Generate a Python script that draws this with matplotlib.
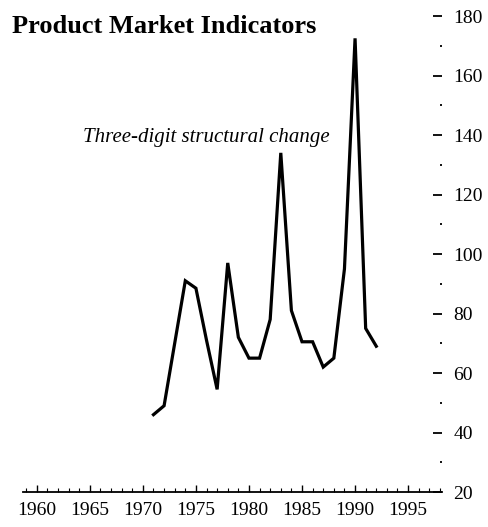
import numpy as np
import matplotlib
matplotlib.use("Agg")
import matplotlib.pyplot as plt
from matplotlib.ticker import MultipleLocator

# =========================
# 数据
# =========================

years = list(range(1971, 1993))
values = [46, 49, 70, 91, 88.5, 71, 54.5, 97, 72, 65, 65,
          78, 134, 81, 70.5, 70.5, 62, 65, 95, 172.5, 75, 69]

x_ticks = [1960, 1965, 1970, 1975, 1980, 1985, 1990, 1995]
y_ticks = [20, 40, 60, 80, 100, 120, 140, 160, 180]

title_text = "Product Market Indicators"
note_text = "Three-digit structural change"

# =========================
# 绘图
# =========================

plt.rcParams["font.family"] = ["Liberation Serif", "DejaVu Serif"]

fig = plt.figure(figsize=(4.89, 5.27), dpi=100)
ax = fig.add_axes([0.047, 0.0664, 0.857, 0.9032])

ax.plot(years, values, color="black", lw=2.3, solid_joinstyle="miter")

ax.set_xlim(1958.7, 1998.2)
ax.set_ylim(20, 180)

# 只保留底部轴线
for s in ["top", "left", "right"]:
    ax.spines[s].set_visible(False)
ax.spines["bottom"].set_linewidth(1.3)

ax.set_xticks(x_ticks)
ax.xaxis.set_minor_locator(MultipleLocator(1))
ax.tick_params(axis="x", which="major", direction="in", length=5, width=1.0,
               labelsize=14, pad=7)
ax.tick_params(axis="x", which="minor", direction="in", length=3, width=0.8)

ax.yaxis.tick_right()
ax.set_yticks(y_ticks)
ax.yaxis.set_minor_locator(MultipleLocator(10))
ax.tick_params(axis="y", which="major", direction="in", length=6.5, width=1.3,
               labelsize=14, pad=8)
ax.tick_params(axis="y", which="minor", direction="in", length=1.5, width=1.3)

fig.text(0.024, 0.937, title_text, fontsize=19, fontweight="bold",
         ha="left", va="baseline")
ax.text(0.675, 0.731, note_text, transform=fig.transFigure, fontsize=15,
        style="italic", ha="right", va="baseline")

fig.savefig("out.png", dpi=100)
